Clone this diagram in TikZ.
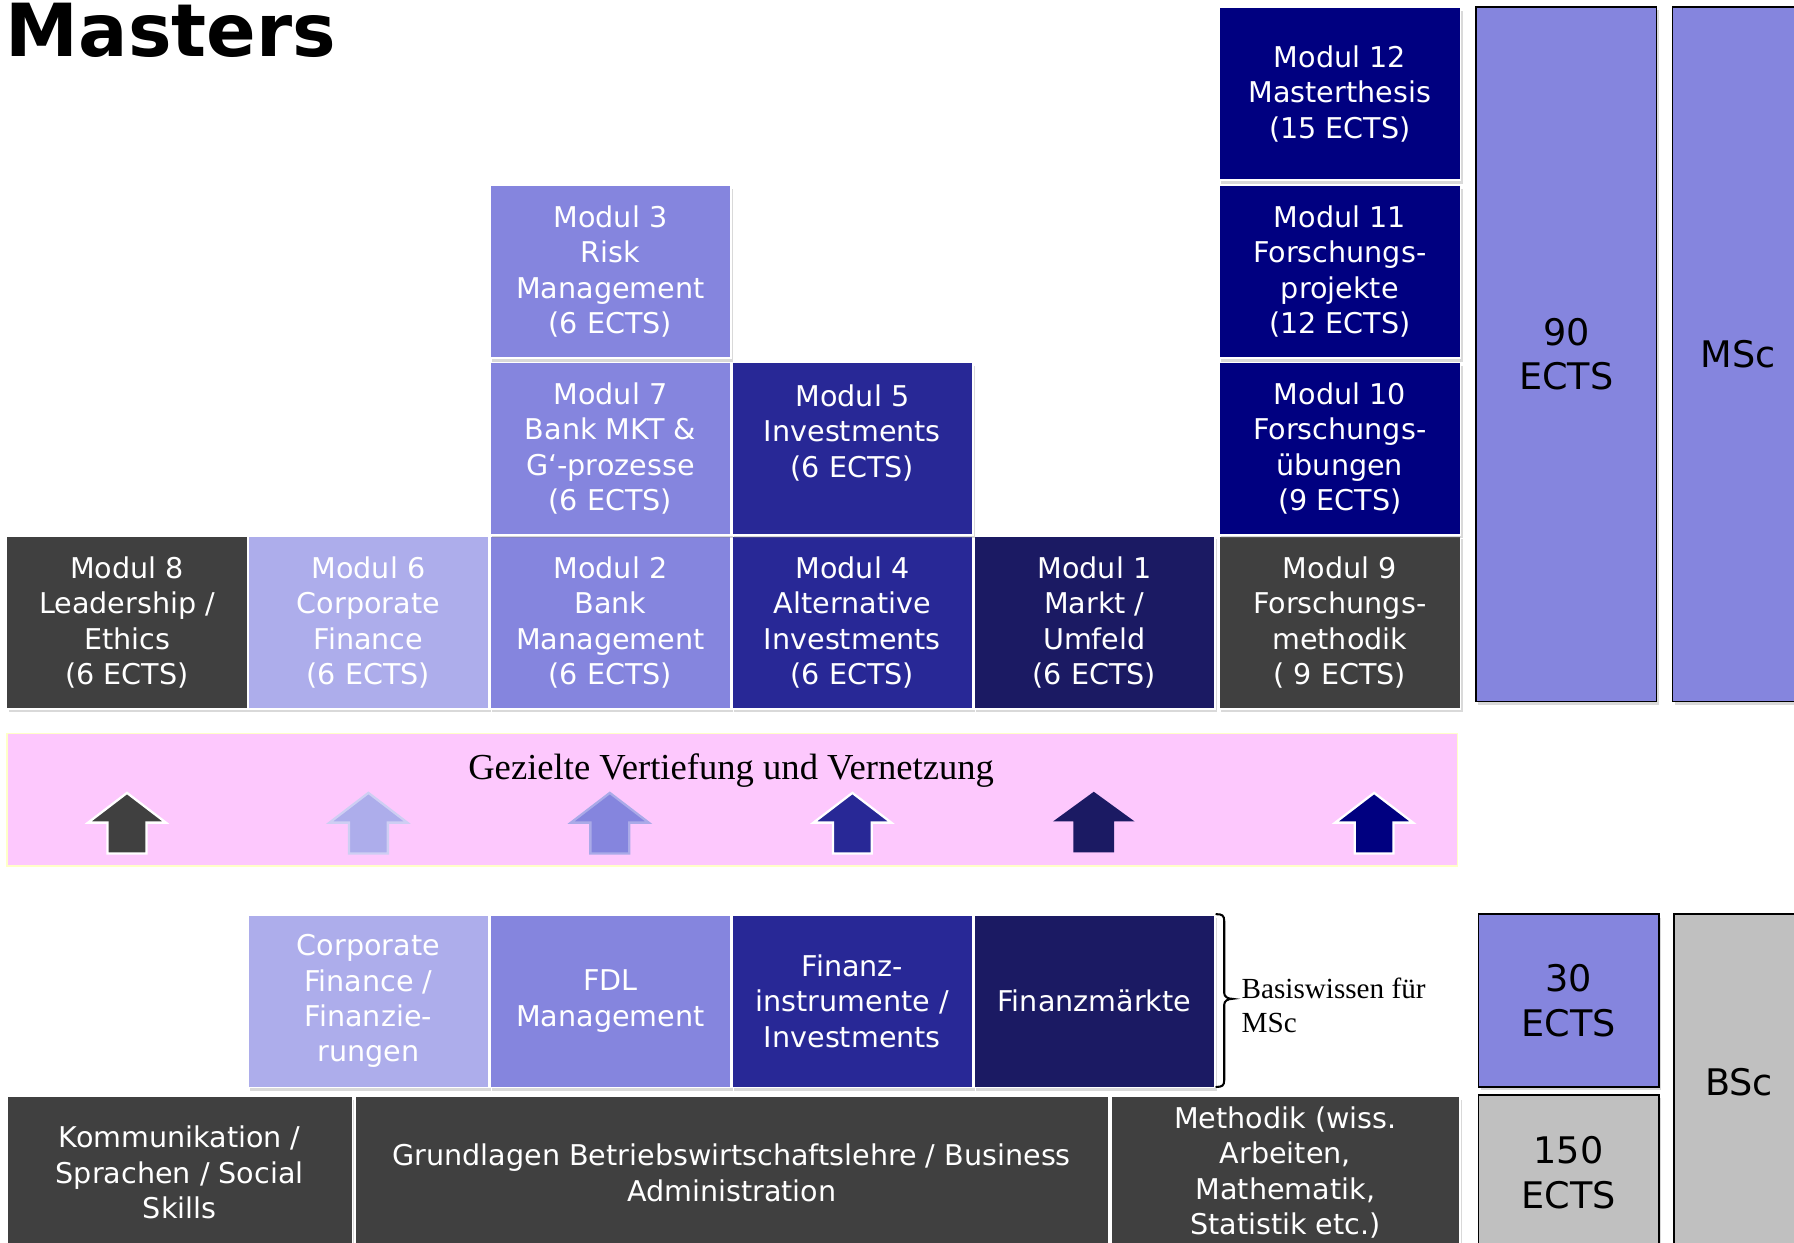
\documentclass[tikz,border=0pt]{standalone}
\usepackage{fontspec}
\setmainfont{DejaVu Sans}
\newfontfamily\timesf{Liberation Serif}
\usetikzlibrary{shadows,calc}
\definecolor{dgrey}{HTML}{404040}
\definecolor{llav}{HTML}{ADADEB}
\definecolor{mlav}{HTML}{8585DE}
\definecolor{viol}{HTML}{282896}
\definecolor{dnavy}{HTML}{1B1A63}
\definecolor{navy}{HTML}{000080}
\definecolor{silv}{HTML}{C0C0C0}
\definecolor{pinkb}{HTML}{FDC8FD}
\definecolor{pyell}{HTML}{FFFFC8}
\begin{document}
\begin{tikzpicture}[x=1pt,y=-1pt,
  mod/.style={rectangle, draw=white, line width=1.5pt, minimum width=211pt,
    minimum height=151pt, inner sep=0pt, text=white, align=center,
    font=\fontsize{25}{31}\selectfont,
    execute at begin node={\vspace*{5pt}},
    drop shadow={shadow xshift=2pt,shadow yshift=-3pt,opacity=0.3}},
  rbox/.style={rectangle, draw=black, line width=1.2pt, inner sep=0pt,
    text=black, align=center, font=\fontsize{32}{39}\selectfont,
    drop shadow={shadow xshift=2pt,shadow yshift=-3pt,opacity=0.3}},
  uparr/.pic={\path[pic actions] (0,0) -- (34,26) -- (17,26) -- (17,53)
    -- (-17,53) -- (-17,26) -- (-34,26) -- cycle;},
  arrsh/.style={drop shadow={shadow xshift=2pt,shadow yshift=-5pt,opacity=0.35,fill=black!70!purple}}
]
\useasboundingbox (0,0) rectangle (1568,1086);
\begin{scope}
\clip (0,0) rectangle (1568,1086);

% title
\node[anchor=base west, inner sep=0pt, font=\fontsize{64}{64}\bfseries\selectfont] (title) at (5,49) {Masters};

% bottom dark row
\node[mod, fill=dgrey, minimum width=302pt, minimum height=134pt] (komm) at (157,1025) {Kommunikation /\\Sprachen / Social\\Skills};
\node[mod, fill=dgrey, minimum width=659pt, minimum height=134pt] (grund) at (639.5,1025) {Grundlagen Betriebswirtschaftslehre / Business\\Administration};
\node[mod, fill=dgrey, minimum width=305pt, minimum height=134pt] (meth) at (1123.5,1025) {Methodik (wiss.\\Arbeiten,\\Mathematik,\\Statistik etc.)};

% basic lavender row
\node[mod, fill=llav] (cf) at (322,875) {Corporate\\Finance /\\Finanzie-\\rungen};
\node[mod, fill=mlav] (fdl) at (533.5,875) {FDL\\Management};
\node[mod, fill=viol] (fi) at (745,875) {Finanz-\\instrumente /\\Investments};
\node[mod, fill=dnavy] (fm) at (956.5,875) {Finanzmärkte};

% brace and label
\draw[line width=1.8pt, line cap=round]
  (1063,799) .. controls (1068,799) and (1070,800) .. (1070,805)
  -- (1070,868)
  .. controls (1070,871) and (1073,873) .. (1077,873)
  .. controls (1073,873) and (1070,875) .. (1070,878)
  -- (1070,944)
  .. controls (1070,949) and (1068,950) .. (1063,950);
\node[anchor=west, align=left, inner sep=0pt, font=\timesf\fontsize{25.5}{30}\selectfont] (basis) at (1085,879) {Basiswissen für\\MSc};

% band
\node[rectangle, fill=pinkb, draw=pyell, line width=1.2pt, minimum width=1268pt, minimum height=116pt, inner sep=0pt] (band) at (640,699) {};
\node[anchor=base, inner sep=0pt, font=\timesf\fontsize{32}{36}\selectfont] (gez) at (639,681) {Gezielte Vertiefung und Vernetzung};
\pic[fill=dgrey, draw=white, line width=2pt, arrsh] at (111,693) {uparr};
\pic[fill=llav, draw=llav!60!white, line width=2pt, arrsh] at (322,693) {uparr};
\pic[fill=mlav, draw=mlav!70!white, line width=2pt, arrsh] at (533,693) {uparr};
\pic[fill=viol, draw=white, line width=2pt, arrsh] at (745,693) {uparr};
\pic[fill=dnavy, draw=none, xscale=1.05, arrsh] at (956,692) {uparr};
\pic[fill=navy, draw=white, line width=2pt, arrsh] at (1201,693) {uparr};

% module row 1
\node[mod, fill=dgrey] (m8) at (111,544) {Modul 8\\Leadership /\\Ethics\\(6 ECTS)};
\node[mod, fill=llav] (m6) at (322,544) {Modul 6\\Corporate\\Finance\\(6 ECTS)};
\node[mod, fill=mlav] (m2) at (533.5,544) {Modul 2\\Bank\\Management\\(6 ECTS)};
\node[mod, fill=viol] (m4) at (745,544) {Modul 4\\Alternative\\Investments\\(6 ECTS)};
\node[mod, fill=dnavy] (m1) at (956.5,544) {Modul 1\\Markt /\\Umfeld\\(6 ECTS)};
\node[mod, fill=dgrey] (m9) at (1171,544) {Modul 9\\Forschungs-\\methodik\\( 9 ECTS)};

% row 2
\node[mod, fill=mlav] (m7) at (533.5,392) {Modul 7\\Bank MKT \&\\G‘-prozesse\\(6 ECTS)};
\node[mod, fill=viol] (m5) at (745,392) {Modul 5\\Investments\\(6 ECTS)\\\mbox{}};
\node[mod, fill=navy] (m10) at (1171,392) {Modul 10\\Forschungs-\\übungen\\(9 ECTS)};

% row 3
\node[mod, fill=mlav] (m3) at (533.5,237.5) {Modul 3\\Risk\\Management\\(6 ECTS)};
\node[mod, fill=navy] (m11) at (1171,237.5) {Modul 11\\Forschungs-\\projekte\\(12 ECTS)};

% row 4
\node[mod, fill=navy] (m12) at (1171,82) {Modul 12\\Masterthesis\\(15 ECTS)};

% right summary boxes
\node[rbox, fill=mlav, minimum width=158pt, minimum height=607pt] (e90) at (1369,309.5) {90\\ECTS};
\node[rbox, fill=mlav, minimum width=114pt, minimum height=607pt] (msc) at (1519,309.5) {MSc};
\node[rbox, fill=mlav, minimum width=158pt, minimum height=151pt] (e30) at (1371,874.5) {30\\ECTS};
\node[rbox, fill=silv, minimum width=158pt, minimum height=136pt] (e150) at (1371,1025) {150\\ECTS};
\node[rbox, fill=silv, minimum width=114pt, minimum height=294pt] (bsc) at (1520,946) {BSc};
\end{scope}
\end{tikzpicture}
\end{document}
